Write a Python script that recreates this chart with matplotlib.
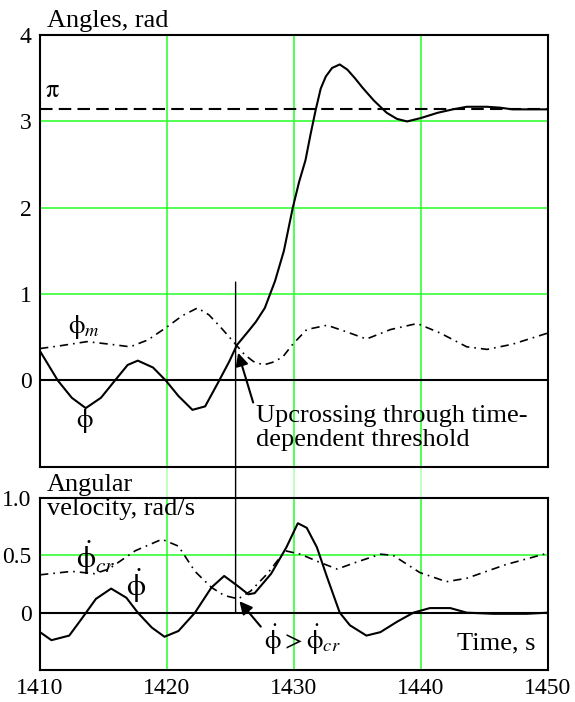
import matplotlib
matplotlib.use("Agg")
import matplotlib.pyplot as plt
from matplotlib.lines import Line2D
from matplotlib.patches import ConnectionPatch

plt.rcParams['font.family'] = ['Liberation Serif', 'DejaVu Serif']
plt.rcParams['mathtext.fontset'] = 'stix'

# Data
t_phi = [1410, 1411.4, 1412.5, 1413.6, 1414.8, 1415.9, 1416.9, 1417.7, 1418.9, 1419.9, 1420.9,
         1422.0, 1423.0, 1424.0, 1424.9, 1425.5, 1426.4, 1427.0, 1427.7, 1428.5, 1429.2, 1429.9,
         1430.4, 1430.9, 1431.3, 1431.7, 1432.1, 1432.5, 1433.0, 1433.6, 1434.2, 1434.8, 1435.4,
         1436.3, 1437.3, 1438.1, 1438.9, 1440.0, 1441.3, 1442.5, 1443.6, 1445.2, 1446.2, 1447.2,
         1450]
phi = [0.34, 0.0, -0.20, -0.32, -0.20, 0.0, 0.18, 0.23, 0.15, 0.0, -0.18,
       -0.34, -0.30, -0.03, 0.22, 0.41, 0.57, 0.68, 0.84, 1.15, 1.50, 2.0,
       2.30, 2.55, 2.85, 3.13, 3.38, 3.52, 3.62, 3.66, 3.60, 3.50, 3.39,
       3.24, 3.10, 3.03, 3.00, 3.04, 3.10, 3.14, 3.17, 3.17, 3.16, 3.14,
       3.14]

t_phim = [1410, 1411.5, 1413.7, 1415.5, 1417.1, 1418.5, 1420, 1421.2, 1422.4, 1423.3, 1424.2,
          1425.4, 1426.1, 1426.8, 1427.6, 1428.3, 1429.1, 1429.9, 1431, 1432.6, 1434.2, 1435.7,
          1437.6, 1439.7, 1441.5, 1443.6, 1445.2, 1447.2, 1450]
phim = [0.37, 0.40, 0.45, 0.42, 0.39, 0.47, 0.62, 0.75, 0.84, 0.76, 0.62,
        0.42, 0.30, 0.22, 0.18, 0.21, 0.27, 0.42, 0.59, 0.64, 0.56, 0.48,
        0.59, 0.66, 0.55, 0.39, 0.36, 0.42, 0.55]

t_dphi = [1410, 1410.9, 1412.3, 1413.3, 1414.4, 1415.6, 1416.8, 1417.7, 1418.8, 1419.8, 1420.9,
          1422.2, 1423.5, 1424.5, 1425.6, 1426.4, 1426.9, 1428.2, 1429.4, 1430.3, 1431.0,
          1431.8, 1432.6, 1433.6, 1434.4, 1435.7, 1436.8, 1438.1, 1439.4, 1440.7, 1442.3,
          1443.6, 1445.7, 1448.3, 1450]
dphi = [-0.17, -0.24, -0.20, -0.05, 0.12, 0.21, 0.13, 0.0, -0.13, -0.21, -0.16,
        0.0, 0.22, 0.32, 0.23, 0.16, 0.17, 0.34, 0.57, 0.78, 0.74,
        0.57, 0.31, 0.0, -0.11, -0.20, -0.17, -0.08, 0.0, 0.04, 0.04,
        0.0, -0.01, -0.01, 0.0]

t_dcr = [1410, 1412.5, 1414.3, 1415.4, 1417.5, 1419.6, 1420.9, 1422.2, 1423.5, 1424.5, 1425.6,
         1426.6, 1427.9, 1429.3, 1430.5, 1432.0, 1433.4, 1434.9, 1436.8, 1437.8, 1439.9, 1442.0,
         1443.6, 1446.7, 1450]
dcr = [0.33, 0.36, 0.34, 0.38, 0.54, 0.64, 0.58, 0.36, 0.22, 0.15, 0.12,
       0.19, 0.34, 0.54, 0.51, 0.44, 0.38, 0.44, 0.51, 0.50, 0.35, 0.27,
       0.30, 0.42, 0.52]

x_ticks = [1410, 1420, 1430, 1440, 1450]
t_cross = 1425.4

green = '#33ff33'
fs = 19
tfs = 17
dashdot = (0, (5, 3, 1, 3))

fig = plt.figure(figsize=(5.75, 7.02), dpi=100)
ax1 = fig.add_axes([0.0696, 0.335, 0.8835, 0.615])
ax2 = fig.add_axes([0.0696, 0.0456, 0.8835, 0.245])

for ax in (ax1, ax2):
    ax.set_xlim(1410, 1450)
    ax.set_xticks(x_ticks)
    for x in x_ticks[1:-1]:
        ax.axvline(x, color=green, lw=1.2, zorder=1)
    ax.axhline(0, color='black', lw=1.5, zorder=2)
    ax.tick_params(length=0, labelsize=tfs, pad=6)
    for s in ax.spines.values():
        s.set_linewidth(1.5)

# top panel
ax1.set_ylim(-1, 4)
ax1.set_yticks([0, 1, 2, 3, 4])
ax1.set_xticklabels([])
for y in [1, 2, 3]:
    ax1.axhline(y, color=green, lw=1.2, zorder=1)
ax1.axhline(3.14159, color='black', lw=1.5, ls=(0, (6, 3)), zorder=3)
ax1.plot(t_phi, phi, color='black', lw=1.5, zorder=4)
ax1.plot(t_phim, phim, color='black', lw=1.2, ls=dashdot, zorder=4)
ax1.text(1410.4, 3.35, r'$\mathrm{\pi}$', fontsize=fs, va='center', ha='left')
ax1.text(1412.2, 0.62, r'$\mathrm{\phi}_m$', fontsize=fs, va='center', ha='left')
ax1.text(1412.8, -0.47, r'$\mathrm{\phi}$', fontsize=fs, va='center', ha='left')
ax1.annotate('Upcrossing through time-\ndependent threshold', xy=(1425.6, 0.32),
             xytext=(1427.0, -0.55), fontsize=fs, ha='left', va='center', linespacing=1.15,
             arrowprops=dict(arrowstyle='-|>', color='black', lw=1.5, shrinkA=0, shrinkB=0,
                             relpos=(0, 0.85)))
fig.text(0.082, 0.9615, 'Angles, rad', fontsize=fs, ha='left', va='baseline')

# bottom panel
ax2.set_ylim(-0.5, 1.0)
ax2.set_yticks([0, 0.5, 1.0])
ax2.set_yticklabels(['0', '0.5', '1.0'])
ax2.axhline(0.5, color=green, lw=1.2, zorder=1)
ax2.plot(t_dphi, dphi, color='black', lw=1.5, zorder=4)
ax2.plot(t_dcr, dcr, color='black', lw=1.2, ls=dashdot, zorder=4)
ax2.text(1412.8, 0.48, r'$\dot{\mathrm{\phi}}_{cr}$', fontsize=fs + 3, va='center', ha='left')
ax2.text(1416.8, 0.24, r'$\dot{\mathrm{\phi}}$', fontsize=fs + 3, va='center', ha='left')
ax2.annotate(r'$\dot{\mathrm{\phi}} > \dot{\mathrm{\phi}}_{cr}$', xy=(1425.7, 0.10),
             xytext=(1427.6, -0.24), fontsize=fs, ha='left', va='center',
             arrowprops=dict(arrowstyle='-|>', color='black', lw=1.5, shrinkA=0, shrinkB=0,
                             relpos=(0, 0.8)))
ax2.text(1449.0, -0.27, 'Time, s', fontsize=fs, ha='right', va='center')
fig.text(0.082, 0.325, 'Angular\nvelocity, rad/s', fontsize=fs, ha='left', va='top',
         linespacing=1.1)

# grid lines running through the gap between panels
for x in x_ticks[1:-1]:
    fx = ax1.transData.transform((x, 0))
    fx = fig.transFigure.inverted().transform(fx)[0]
    fig.add_artist(Line2D([fx, fx], [0.2906, 0.335], color='#b8ffb8', lw=1.2, zorder=0))

# vertical marker line at the upcrossing time
con = ConnectionPatch(xyA=(t_cross, 1.14), coordsA=ax1.transData,
                      xyB=(t_cross, 0.0), coordsB=ax2.transData,
                      color='black', lw=1.0, zorder=5)
fig.add_artist(con)

fig.savefig('out.png', dpi=100)
